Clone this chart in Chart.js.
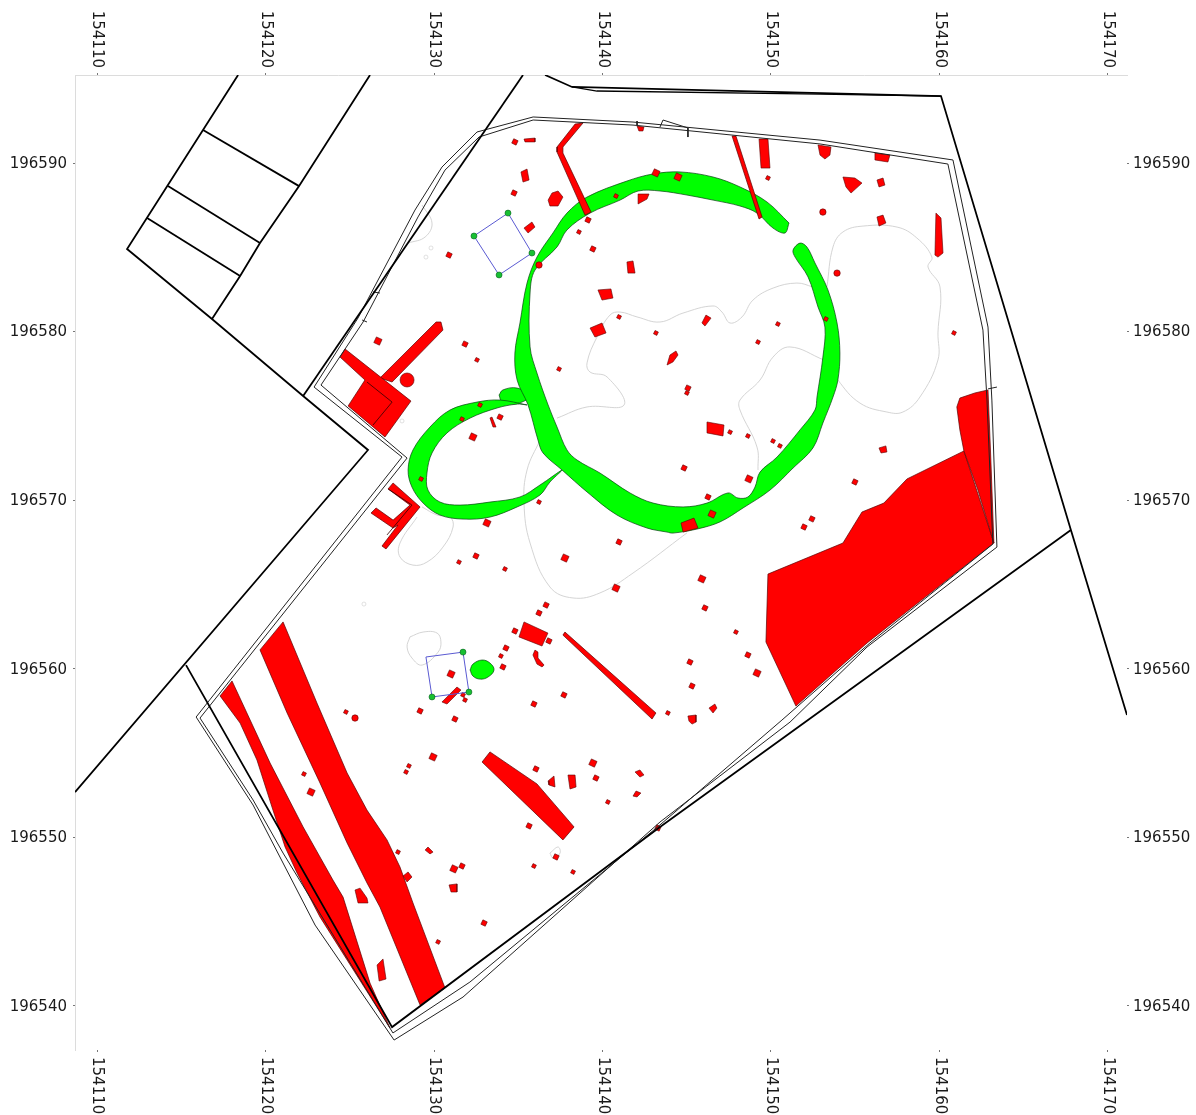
<!DOCTYPE html>
<html>
<head>
<meta charset="utf-8">
<title>Site plan</title>
<script src="https://cdn.jsdelivr.net/npm/chart.js@4"></script>
<style>
html, body { margin: 0; padding: 0; background: #fff; }
canvas { display: block; }
</style>
</head>
<body>
<canvas id="chart" width="1196" height="1115"></canvas>
<script>
// survey grid: pairs below are metres east / north of this origin
const originE = 154100;
const originN = 196500;
const eastTicks = [154110, 154120, 154130, 154140, 154150, 154160, 154170];
const northTicks = [196540, 196550, 196560, 196570, 196580, 196590];

// cadastral boundaries
const parcelOuter = [[18.37,95.22],[11.78,84.90],[16.82,80.75],[22.23,76.18],[26.08,72.98],[8.69,52.69]];
const parcelInner = [[26.20,95.22],[21.99,88.63],[19.67,85.25],[18.49,83.30],[16.82,80.75]];
const parcelCross = [
  [[16.29,91.96],[21.99,88.63]],
  [[14.21,88.63],[19.67,85.25]],
  [[12.97,86.74],[18.49,83.30]]
];
const roadNorth = [[22.23,76.18],[35.28,95.22]];
const roadEast = [[36.59,95.22],[38.19,94.51],[60.09,93.97],[67.80,68.23],[71.13,57.26]];
const roadEast2 = [[38.19,94.51],[39.67,94.27],[52.91,94.09],[60.09,93.97]];
const roadSouth = [[67.80,68.23],[43.41,50.62],[27.51,38.75],[15.28,60.22]];

// double line round the site
const siteOuter = [[15.88,57.14],[28.10,72.56],[22.88,76.71],[25.49,80.81],[28.87,87.21],[30.47,89.76],[32.55,91.84],[35.88,92.73],[41.81,92.43],[52.91,91.36],[60.80,90.18],[62.88,80.27],[63.11,75.94],[63.41,67.22],[55.70,61.29],[51.13,56.84],[43.41,50.91],[31.72,40.53],[27.63,37.98],[22.94,44.80],[19.26,51.92],[15.88,57.14]];
const siteInner = [[16.11,57.08],[28.40,72.50],[23.29,76.83],[25.79,80.57],[29.05,86.80],[30.65,89.58],[32.67,91.54],[35.88,92.55],[41.81,92.25],[52.91,91.13],[60.50,89.94],[62.58,80.09],[62.82,75.94],[63.17,67.40],[55.87,61.53],[50.65,56.96],[43.41,50.74],[32.13,41.42],[27.56,38.40],[21.04,49.07],[19.26,52.22],[16.11,57.08]];
const siteNotches = [
  [[42.05,92.49],[42.05,92.25]],
  [[43.41,92.13],[43.59,92.55],[45.07,92.08],[45.07,91.54]],
  [[26.38,82.35],[26.79,82.29]],
  [[25.73,80.69],[26.02,80.57]],
  [[62.88,76.60],[63.41,76.71]]
];

// faint contours
const contours = [
  [[52.49,82.65],[51.54,82.88],[50.12,82.58],[48.93,81.87],[48.28,80.87],[47.57,80.51],[47.09,81.16],[46.56,81.52],[44.78,81.10],[43.41,80.57],[42.05,80.87],[41.04,81.16],[40.44,80.98],[39.67,79.68],[39.08,78.14],[39.26,77.60],[40.27,77.31],[41.28,75.65],[39.08,75.53],[37.30,74.87]],
  [[53.14,78.32],[51.13,79.09],[50.12,78.49],[49.35,77.13],[48.16,75.94],[48.16,75.35],[49.17,73.15],[49.23,71.79]],
  [[53.32,82.65],[53.68,85.02],[54.27,85.91],[55.46,86.26],[57.48,86.20],[58.66,85.55],[59.55,84.42],[59.32,83.83],[60.03,82.65],[59.91,79.92],[59.91,78.32],[58.84,76.12],[57.83,75.23],[56.88,75.23],[55.28,75.76],[53.97,77.13],[53.20,78.43]],
  [[36.29,73.57],[35.52,71.79],[35.34,69.83],[35.70,67.46],[36.88,64.85],[38.25,64.20],[39.85,64.50],[41.81,65.68],[45.01,68.06]],
  [[29.29,69.60],[30.18,69.12],[30.95,69.00],[31.13,68.41],[30.53,67.22],[29.58,66.33],[28.75,66.15],[27.98,66.63],[27.98,67.46],[28.99,69.00]],
  [[29.29,87.51],[29.88,86.44],[29.47,85.61],[28.46,85.25]],
  [[28.57,61.89],[29.35,62.18],[30.18,62.12],[30.41,61.59],[30.24,60.99],[29.29,60.22],[28.69,60.64],[28.40,61.29],[28.57,61.89]],
  [[36.88,49.07],[37.36,49.43],[37.48,49.07],[37.06,48.78],[36.88,49.07]]
];
const contourRings = [[29.82,84.96],[29.52,84.42],[25.84,63.84],[28.10,74.70]];

// green ditches
const ringDitch = [[51.07,86.44],[49.76,87.69],[48.16,88.58],[46.56,89.17],[44.60,89.47],[43.00,89.35],[41.45,88.93],[39.08,87.98],[37.89,87.03],[37.06,85.85],[36.11,84.42],[35.52,82.88],[35.10,80.51],[34.80,78.73],[34.93,77.13],[35.58,75.65],[36.17,73.57],[36.47,72.80],[37.60,71.79],[39.08,70.49],[40.86,69.12],[42.64,68.35],[43.83,68.11],[44.18,68.05],[45.61,68.29],[46.97,68.71],[48.34,69.54],[49.94,70.60],[51.31,71.91],[52.49,73.10],[53.08,74.58],[53.68,76.12],[53.97,77.13],[54.09,78.73],[53.92,80.51],[53.38,82.47],[52.61,84.07],[52.13,85.02],[51.72,85.25],[51.31,84.84],[51.43,84.42],[52.20,83.24],[52.79,81.46],[53.20,80.27],[53.08,78.49],[52.73,76.12],[52.61,75.35],[51.72,74.17],[50.36,72.56],[49.35,71.67],[49.05,70.78],[48.63,70.19],[48.04,70.13],[47.45,70.43],[46.20,69.83],[44.78,69.60],[43.00,69.83],[41.63,70.43],[39.85,71.61],[38.49,72.38],[37.89,72.98],[37.30,74.34],[36.77,75.65],[36.11,77.54],[35.70,79.09],[35.70,82.29],[35.99,83.65],[37.30,85.02],[37.89,86.03],[39.26,87.03],[41.04,87.80],[42.11,88.34],[43.41,88.34],[45.01,88.10],[46.56,87.80],[48.16,87.45],[49.17,87.03],[50.12,86.14],[50.83,85.85]];
const loopDitch = [[35.52,75.65],[33.92,75.94],[32.55,75.82],[30.95,75.35],[29.76,74.34],[28.75,72.98],[28.46,71.79],[28.69,70.78],[29.35,69.83],[30.35,69.12],[31.72,68.88],[33.32,69.00],[34.93,69.60],[36.29,70.31],[36.88,71.08],[37.60,71.79],[36.29,70.90],[35.10,70.19],[33.32,69.89],[31.54,69.71],[30.35,69.89],[29.64,70.60],[29.58,71.61],[29.88,72.80],[30.77,73.99],[32.14,74.87],[33.74,75.47],[34.93,75.70]];
const ditchBulb = [[33.86,76.24],[34.09,76.54],[34.93,76.65],[35.70,76.20],[35.22,75.82],[34.51,75.70],[34.03,75.82]];
const greenPond = [[32.14,59.93],[32.31,60.28],[32.85,60.52],[33.32,60.34],[33.56,59.93],[33.20,59.51],[32.73,59.39],[32.31,59.57]];

// blue survey squares
const surveySquareA = [[34.39,87.03],[32.37,85.67],[33.86,83.36],[35.81,84.66],[34.39,87.03]];
const surveySquareB = [[31.72,60.99],[29.52,60.70],[29.88,58.33],[32.07,58.62],[31.72,60.99]];
const surveyMarks = [[34.39,87.03],[32.37,85.67],[33.86,83.36],[35.81,84.66],[31.72,60.99],[29.88,58.33],[32.07,58.62]];

// large red areas
const eastArea = [[49.82,65.62],[54.27,67.46],[55.40,69.30],[56.70,69.83],[58.07,71.26],[61.45,72.92],[63.23,67.46],[55.70,61.53],[51.48,57.79],[49.70,61.59]];
const eastAreaTail = [[61.45,72.92],[61.21,74.17],[61.03,75.53],[61.21,76.06],[62.10,76.36],[62.88,76.54],[63.05,72.38],[63.23,67.46],[62.28,70.60]];
const stripWide = [[21.04,62.78],[23.05,57.97],[24.84,53.82],[26.02,51.62],[27.21,49.85],[27.98,48.24],[28.75,46.11],[30.65,41.07],[29.17,40.06],[26.79,45.87],[26.02,47.30],[24.84,49.67],[23.23,53.23],[21.28,57.38],[19.67,61.12]];
const stripNarrow = [[18.01,59.28],[17.30,58.39],[18.49,56.78],[19.49,54.59],[20.44,51.62],[21.16,49.43],[21.87,47.89],[23.23,45.28],[24.84,42.73],[27.39,38.69],[26.20,41.36],[24.60,46.46],[24.00,47.47],[22.23,50.62],[20.27,54.41]];
const bastion = [[24.72,78.97],[24.42,78.49],[25.90,77.13],[24.90,75.59],[27.09,73.75],[28.63,75.88]];
const bastionInner = [[26.02,77.01],[27.51,75.82],[26.38,74.46]];
const bastionArm = [[26.79,77.25],[30.12,80.57],[30.41,80.57],[30.53,80.09],[27.51,77.01]];
const bastionPit = [[28.40,77.13]];
const uWall = [[27.57,71.02],[29.17,69.60],[27.15,67.11],[26.91,67.28],[27.86,68.53],[27.57,68.35],[26.26,69.24],[26.56,69.54],[27.57,68.82],[28.57,69.71],[27.27,70.67]];
const uWallInner = [[27.27,70.67],[28.69,69.71],[27.21,67.94]];
const trenchLong = [[33.32,55.07],[32.85,54.47],[37.65,49.85],[38.31,50.62],[36.11,53.17]];
const trenchThin = [[37.77,62.18],[37.65,62.00],[42.94,57.02],[43.17,57.38]];
const gullyNorth = [[38.84,92.37],[38.37,92.31],[37.30,90.95],[37.30,90.65],[38.96,86.91],[39.32,87.09],[37.65,90.59],[37.65,90.95]];
const gullyEast = [[47.69,91.60],[47.92,91.60],[49.47,86.80],[49.29,86.68]];

// mid sized red features
const redFeatures = [
  [[35.34,62.78],[35.04,61.89],[36.41,61.35],[36.76,62.12]],
  [[30.47,58.03],[30.77,57.91],[31.60,58.74],[31.36,58.92]],
  [[35.99,61.11],[35.87,60.82],[36.11,60.28],[36.41,60.11],[36.53,60.22],[36.17,60.64],[36.17,60.99]],
  [[36.82,53.11],[37.18,52.99],[37.12,53.64],[36.77,53.35]],
  [[37.95,53.70],[38.37,53.70],[38.43,52.99],[38.07,52.87]],
  [[49.29,91.42],[49.82,91.42],[49.94,89.70],[49.41,89.70]],
  [[52.79,91.07],[53.56,90.95],[53.50,90.47],[53.20,90.24],[52.91,90.47]],
  [[56.17,90.59],[57.06,90.47],[56.94,90.06],[56.17,90.18]],
  [[54.27,89.17],[54.98,89.11],[55.40,88.81],[54.75,88.22],[54.45,88.58]],
  [[56.29,88.99],[56.65,89.11],[56.76,88.69],[56.41,88.58]],
  [[56.29,86.80],[56.65,86.91],[56.82,86.44],[56.41,86.26]],
  [[59.79,87.03],[60.09,86.74],[60.21,84.66],[59.91,84.42],[59.73,84.54]],
  [[42.05,92.19],[42.46,92.13],[42.40,91.90],[42.16,91.90]],
  [[42.11,88.16],[42.76,88.16],[42.64,87.86],[42.11,87.57]],
  [[35.16,89.47],[35.52,89.64],[35.64,88.99],[35.28,88.87]],
  [[35.34,91.42],[35.99,91.48],[35.99,91.25],[35.40,91.25]],
  [[36.77,87.80],[37.00,88.22],[37.36,88.34],[37.65,87.98],[37.36,87.45],[36.88,87.45]],
  [[35.34,86.14],[35.81,86.50],[35.99,86.20],[35.58,85.85]],
  [[41.45,84.13],[41.81,84.19],[41.93,83.47],[41.51,83.47]],
  [[39.73,82.47],[40.50,82.53],[40.62,81.99],[39.97,81.87]],
  [[39.26,80.21],[39.97,80.51],[40.21,79.92],[39.55,79.68]],
  [[46.14,80.98],[46.44,80.80],[46.08,80.33],[45.90,80.51]],
  [[43.83,78.02],[44.00,78.61],[44.36,78.85],[44.48,78.61],[44.18,78.20]],
  [[46.20,74.64],[47.21,74.46],[47.15,73.81],[46.20,73.99]],
  [[44.66,68.65],[45.43,68.94],[45.67,68.35],[44.78,68.11]],
  [[56.41,73.10],[56.82,73.22],[56.88,72.86],[56.53,72.80]],
  [[25.31,46.88],[25.61,46.99],[26.02,46.40],[26.08,46.11],[25.49,46.11]],
  [[26.62,42.43],[26.97,42.79],[27.15,41.60],[26.74,41.48]],
  [[28.16,47.71],[28.46,47.95],[28.69,47.65],[28.40,47.36]],
  [[29.47,49.25],[29.64,49.43],[29.94,49.13],[29.76,49.02]],
  [[30.89,47.18],[31.36,47.24],[31.36,46.76],[31.01,46.76]],
  [[45.07,57.20],[45.55,57.26],[45.55,56.84],[45.31,56.72],[45.13,56.90]],
  [[46.32,57.67],[46.67,57.91],[46.79,57.67],[46.56,57.38]],
  [[41.93,53.88],[42.22,54.00],[42.46,53.70],[42.22,53.58]],
  [[41.81,52.45],[41.99,52.75],[42.28,52.63],[42.05,52.40]],
  [[33.32,74.88],[33.44,74.93],[33.68,74.34],[33.50,74.34]]
];

// small pits
const pitsSmall = [[38.60,85.91],[40.80,88.04],[49.82,89.11],[40.98,80.87],[43.17,79.92],[50.41,80.45],[49.23,79.38],[32.55,78.32],[37.42,77.78],[45.01,76.36],[53.26,80.75],[60.86,79.92],[31.66,74.81],[32.73,75.65],[29.23,71.26],[36.23,69.89],[31.48,66.33],[34.21,65.92],[47.57,74.04],[48.63,73.81],[50.12,73.51],[50.53,73.22],[47.92,62.18],[43.88,57.38],[33.97,60.76],[31.72,58.45],[31.84,58.15],[24.77,57.44],[28.51,54.24],[28.34,53.88],[40.32,52.10],[27.86,49.13],[35.93,48.30],[22.28,53.76],[30.24,43.80],[38.25,47.95]];
const pitsMedium = [[34.80,91.25],[34.75,88.22],[30.89,84.54],[39.14,86.62],[39.43,84.90],[31.84,79.26],[45.07,76.65],[33.92,74.93],[32.49,66.69],[40.98,67.52],[36.65,63.78],[44.84,71.91],[46.26,70.19],[54.98,71.08],[52.43,68.89],[51.96,68.41],[46.08,63.61],[48.63,60.82],[45.19,60.40],[45.31,58.98],[36.23,63.31],[34.80,62.24],[36.82,61.65],[34.27,61.23],[34.09,60.11],[37.71,58.45],[35.93,57.91],[29.17,57.50],[31.24,57.02],[36.05,54.06],[39.61,53.52],[35.64,50.68],[43.29,50.56],[37.24,48.84],[31.66,48.30],[32.97,44.92]];
const pitsLarge = [[43.17,89.41],[44.48,89.17],[26.67,79.44],[32.31,73.75],[33.14,68.65],[37.77,66.57],[40.80,64.79],[48.69,71.26],[46.50,69.18],[45.90,65.33],[49.17,59.75],[31.01,59.69],[29.94,54.77],[39.43,54.41],[22.70,52.69],[31.18,48.13]];
const pitsRound = [[36.23,83.95],[53.08,87.09],[53.92,83.47],[25.31,57.08]];

const toPoints = pairs => pairs.map(p => ({ x: originE + p[0], y: originN + p[1] }));
const closed = pairs => pairs.concat([pairs[0]]);

const datasets = [];
function addLine(pairs, color, width, tension) {
  datasets.push({ data: toPoints(pairs), showLine: true, borderColor: color, borderWidth: width, pointRadius: 0, tension: tension || 0 });
}
function addArea(pairs, color, edge, width, tension) {
  datasets.push({ data: toPoints(closed(pairs)), showLine: true, borderColor: edge, borderWidth: width, backgroundColor: color, polygon: true, pointRadius: 0, tension: tension || 0 });
}
function addPits(pairs, style, radius, fill, edge) {
  datasets.push({ data: toPoints(pairs), showLine: false, pointStyle: style, pointRadius: radius, pointRotation: 25, pointBackgroundColor: fill, pointBorderColor: edge, pointBorderWidth: 0.6 });
}

const RED = '#ff0000', RED_EDGE = '#5a0000', GREEN = '#00ff00', GREEN_EDGE = '#064010';

contours.forEach(c => addLine(c, '#cfcfcf', 0.9, 0.4));
addPits(contourRings, 'circle', 2, 'rgba(255,255,255,0)', '#cccccc');

addArea(ditchBulb, GREEN, GREEN_EDGE, 0.7, 0.4);
addArea(loopDitch, GREEN, GREEN_EDGE, 0.7, 0.35);
addArea(ringDitch, GREEN, GREEN_EDGE, 0.7, 0.35);
addArea(greenPond, GREEN, GREEN_EDGE, 0.7, 0.4);

addArea(eastArea, RED, RED_EDGE, 0.7);
addArea(eastAreaTail, RED, RED_EDGE, 0.7);
addArea(stripWide, RED, RED_EDGE, 0.7);
addArea(stripNarrow, RED, RED_EDGE, 0.7);
addArea(bastionArm, RED, RED_EDGE, 0.7);
addArea(bastion, RED, RED_EDGE, 0.7);
addLine(bastionInner, '#300000', 0.8);
addPits(bastionPit, 'circle', 7, RED, RED_EDGE);
addArea(uWall, RED, RED_EDGE, 0.7);
addLine(uWallInner, '#300000', 0.8);
addArea(trenchLong, RED, RED_EDGE, 0.7);
addArea(trenchThin, RED, RED_EDGE, 0.7);
addArea(gullyNorth, RED, RED_EDGE, 0.7);
addArea(gullyEast, RED, RED_EDGE, 0.7);
redFeatures.forEach(f => addArea(f, RED, RED_EDGE, 0.6));
addPits(pitsSmall, 'rect', 2.6, RED, RED_EDGE);
addPits(pitsMedium, 'rect', 3.4, RED, RED_EDGE);
addPits(pitsLarge, 'rect', 4.4, RED, RED_EDGE);
addPits(pitsRound, 'circle', 3.2, RED, RED_EDGE);

addLine(surveySquareA, '#5a5ad2', 1);
addLine(surveySquareB, '#5a5ad2', 1);
addPits(surveyMarks, 'circle', 3, '#18c032', '#0a6020');

addLine(siteOuter, '#222222', 1);
addLine(siteInner, '#222222', 1);
siteNotches.forEach(n => addLine(n, '#222222', 1));

addLine(parcelOuter, '#000000', 1.8);
addLine(parcelInner, '#000000', 1.8);
parcelCross.forEach(c => addLine(c, '#000000', 1.8));
addLine(roadNorth, '#000000', 1.8);
addLine(roadEast, '#000000', 1.8);
addLine(roadEast2, '#000000', 1.3);
addLine(roadSouth, '#000000', 1.8);

// later datasets sit on top
datasets.forEach((d, i) => { d.order = -i; });

// Chart.js has no closed polygon fill for scatter lines, so fill from the placed points
const polygonFill = {
  id: 'polygonFill',
  beforeDatasetDraw(chart, args) {
    const ds = chart.data.datasets[args.index];
    if (!ds.polygon) return;
    args.meta.dataset.updateControlPoints(chart.chartArea);
    const pts = args.meta.data;
    const ctx = chart.ctx;
    ctx.save();
    ctx.beginPath();
    pts.forEach((p, i) => {
      if (i === 0) ctx.moveTo(p.x, p.y);
      else if (ds.tension) ctx.bezierCurveTo(pts[i - 1].cp2x, pts[i - 1].cp2y, p.cp1x, p.cp1y, p.x, p.y);
      else ctx.lineTo(p.x, p.y);
    });
    ctx.closePath();
    ctx.fillStyle = ds.backgroundColor;
    ctx.fill();
    ctx.restore();
  }
};

// tick labels: x ones read downwards on both sides, which the built in ticks can't do
const gridLabels = {
  id: 'gridLabels',
  afterDraw(chart) {
    const ctx = chart.ctx;
    const sx = chart.scales.x;
    const sy = chart.scales.y;
    ctx.save();
    ctx.font = '15px "DejaVu Sans"';
    ctx.fillStyle = '#1a1a1a';
    ctx.textBaseline = 'middle';
    eastTicks.forEach(v => {
      const px = sx.getPixelForValue(v);
      ctx.save();
      ctx.translate(px, 68);
      ctx.rotate(Math.PI / 2);
      ctx.textAlign = 'right';
      ctx.fillText(String(v), 0, 0);
      ctx.restore();
      ctx.save();
      ctx.translate(px, 1057);
      ctx.rotate(Math.PI / 2);
      ctx.textAlign = 'left';
      ctx.fillText(String(v), 0, 0);
      ctx.restore();
    });
    northTicks.forEach(v => {
      const py = sy.getPixelForValue(v) + 1;
      ctx.textAlign = 'right';
      ctx.fillText(String(v), 67, py);
      ctx.textAlign = 'left';
      ctx.fillText(String(v), 1133, py);
    });
    ctx.restore();
  }
};

function axis(position, min, max, ticks, size, showBorder) {
  return {
    type: 'linear',
    position: position,
    min: min,
    max: max,
    afterBuildTicks(scale) { scale.ticks = ticks.map(v => ({ value: v })); },
    afterFit(scale) {
      if (position === 'left' || position === 'right') scale.width = size;
      else scale.height = size;
    },
    ticks: { display: false },
    grid: { drawOnChartArea: false, tickLength: 2, color: '#777', lineWidth: 1 },
    border: { display: showBorder, color: '#dcdcdc', width: 1 }
  };
}

new Chart(document.getElementById('chart').getContext('2d'), {
  type: 'scatter',
  data: { datasets: datasets },
  options: {
    responsive: false,
    animation: false,
    layout: { padding: 0 },
    plugins: { legend: { display: false }, tooltip: { enabled: false } },
    scales: {
      x: axis('bottom', 154108.69, 154171.13, eastTicks, 65, false),
      xTop: axis('top', 154108.69, 154171.13, eastTicks, 75, true),
      y: axis('left', 196537.39, 196595.22, northTicks, 75, true),
      yRight: axis('right', 196537.39, 196595.22, northTicks, 69, false)
    }
  },
  plugins: [polygonFill, gridLabels]
});
</script>
</body>
</html>
